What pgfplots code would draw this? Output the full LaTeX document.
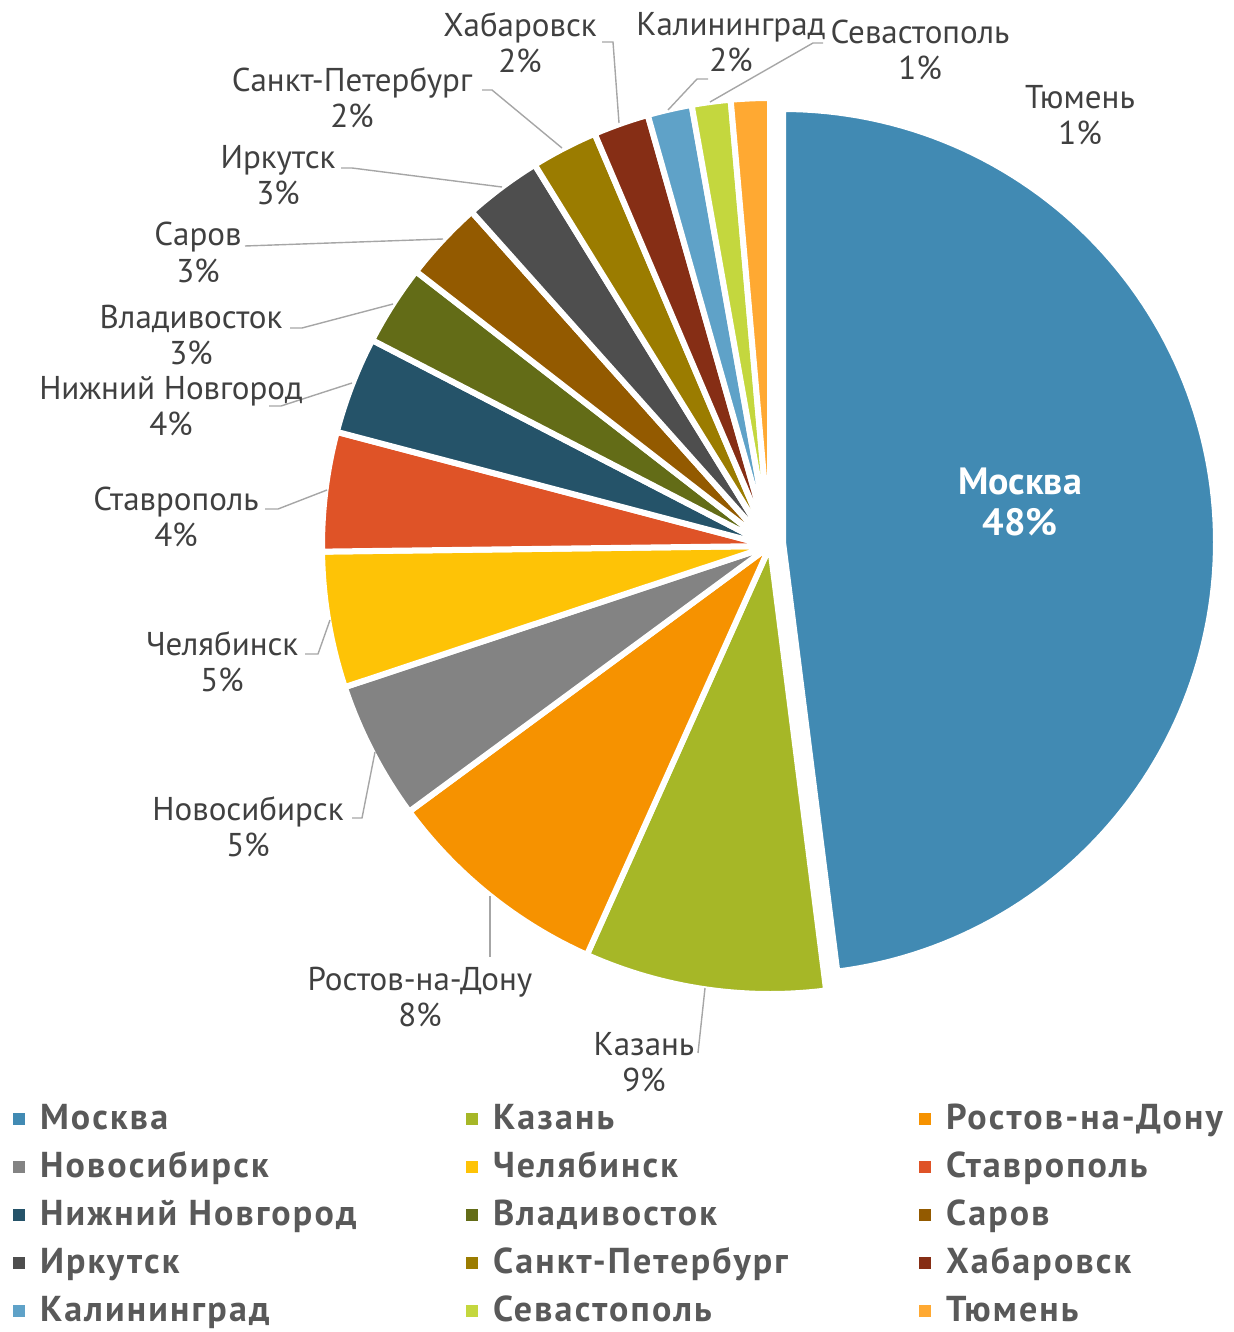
\documentclass[border=0pt]{standalone}
\usepackage{fontspec}
\setmainfont{PT Sans}
\newfontfamily\legfont[LetterSpace=6]{PT Sans}
\usepackage{pgfplots}
\pgfplotsset{compat=1.18}
\definecolor{mosc}{HTML}{418AB3}
\definecolor{kaz}{HTML}{A6B727}
\definecolor{rost}{HTML}{F69200}
\definecolor{novo}{HTML}{838383}
\definecolor{chel}{HTML}{FEC306}
\definecolor{stav}{HTML}{DF5327}
\definecolor{nn}{HTML}{255369}
\definecolor{vlad}{HTML}{636C17}
\definecolor{sar}{HTML}{935A00}
\definecolor{irk}{HTML}{4E4E4E}
\definecolor{spb}{HTML}{9B7C00}
\definecolor{khab}{HTML}{862E15}
\definecolor{kal}{HTML}{5FA2C8}
\definecolor{sev}{HTML}{C4D73E}
\definecolor{tyu}{HTML}{FFA932}
\definecolor{labtext}{HTML}{404040}
\definecolor{legtext}{HTML}{595959}
\definecolor{leader}{HTML}{A6A6A6}
\newcommand\lab{\fontsize{16.5}{18}\selectfont}
\def\cum{0}
% #1 colour, #2 share in percent, #3 centre x, #4 centre y, #5 radius
\newcommand\slice[5]{%
  \pgfmathsetmacro\sa{3.6*\cum-90}%
  \pgfmathsetmacro\cumnew{\cum+#2}%
  \pgfmathsetmacro\sb{3.6*\cumnew-90}%
  \global\let\cum\cumnew
  \edef\temp{\noexpand\addplot[forget plot, fill=#1, draw=white, line width=3pt, line join=round, domain=\sa:\sb, samples=120] ({#3+#5*cos(x)},{#4+#5*sin(x)}) -- (axis cs:#3,#4) -- cycle;}%
  \temp}
\begin{document}
\begin{tikzpicture}
\begin{axis}[
  x=0.5pt, y=0.5pt,
  xmin=0, xmax=1233, ymin=0, ymax=1332,
  y dir=reverse,
  hide axis, clip=false,
  legend columns=3,
  legend cell align=left,
  legend image code/.code={\fill[#1,draw=none] (0pt,-3pt) rectangle (6pt,3pt);},
  legend style={at={(axis cs:13,1104)}, anchor=north west, draw=none, fill=none,
    inner sep=0pt, outer sep=0pt, column sep=0pt, row sep=9pt,
    font=\legfont\fontsize{18}{20}\selectfont\bfseries, text=legtext,
    nodes={inner sep=0pt, text height=12.5pt, text depth=2.5pt},
    /tikz/every odd column/.append style={column sep=7.5pt}},
]
% Moscow (exploded)
\slice{mosc}{48.0}{783}{542}{433}
% the rest
\slice{kaz}{8.7}{770}{546}{448}
\slice{rost}{8.2}{770}{546}{448}
\slice{novo}{5.0}{770}{546}{448}
\slice{chel}{4.9}{770}{546}{448}
\slice{stav}{4.3}{770}{546}{448}
\slice{nn}{3.5}{770}{546}{448}
\slice{vlad}{2.9}{770}{546}{448}
\slice{sar}{2.9}{770}{546}{448}
\slice{irk}{2.8}{770}{546}{448}
\slice{spb}{2.4}{770}{546}{448}
\slice{khab}{2.0}{770}{546}{448}
\slice{kal}{1.6}{770}{546}{448}
\slice{sev}{1.4}{770}{546}{448}
\slice{tyu}{1.4}{770}{546}{448}
% leader lines
\addplot[forget plot, leader, line width=0.7pt] coordinates {(705,988) (698,1053)};
\addplot[forget plot, leader, line width=0.7pt] coordinates {(490,896) (490,957)};
\addplot[forget plot, leader, line width=0.7pt] coordinates {(375,752) (362,818) (352,818)};
\addplot[forget plot, leader, line width=0.7pt] coordinates {(330,620) (318,654) (305,654)};
\addplot[forget plot, leader, line width=0.7pt] coordinates {(327,490) (278,509) (265,509)};
\addplot[forget plot, leader, line width=0.7pt] coordinates {(352,383) (281,406) (269,406)};
\addplot[forget plot, leader, line width=0.7pt] coordinates {(393,304) (302,328) (290,328)};
\addplot[forget plot, leader, line width=0.7pt] coordinates {(443,239) (245,246)};
\addplot[forget plot, leader, line width=0.7pt] coordinates {(502,187) (352,168) (341,168)};
\addplot[forget plot, leader, line width=0.7pt] coordinates {(562,148) (492,90) (482,90)};
\addplot[forget plot, leader, line width=0.7pt] coordinates {(619,123) (613,42) (602,42)};
\addplot[forget plot, leader, line width=0.7pt] coordinates {(668,110) (697,79) (708,79)};
\addplot[forget plot, leader, line width=0.7pt] coordinates {(710,102) (813,43) (823,43)};
% labels (anchored at the baseline of the second line)
\node[anchor=base, align=center, text=white, font=\fontsize{19}{20.5}\selectfont\bfseries] at (axis cs:1020,535) {Москва\\48\%};
\node[anchor=base, align=center, text=labtext, font=\lab] at (axis cs:644,1091) {Казань\\9\%};
\node[anchor=base, align=center, text=labtext, font=\lab] at (axis cs:420,1026) {Ростов-на-Дону\\8\%};
\node[anchor=base, align=center, text=labtext, font=\lab] at (axis cs:248,856) {Новосибирск\\5\%};
\node[anchor=base, align=center, text=labtext, font=\lab] at (axis cs:222,691) {Челябинск\\5\%};
\node[anchor=base, align=center, text=labtext, font=\lab] at (axis cs:176,546) {Ставрополь\\4\%};
\node[anchor=base, align=center, text=labtext, font=\lab] at (axis cs:171,435) {Нижний Новгород\\4\%};
\node[anchor=base, align=center, text=labtext, font=\lab] at (axis cs:191,364) {Владивосток\\3\%};
\node[anchor=base, align=center, text=labtext, font=\lab] at (axis cs:198,282) {Саров\\3\%};
\node[anchor=base, align=center, text=labtext, font=\lab] at (axis cs:278,205) {Иркутск\\3\%};
\node[anchor=base, align=center, text=labtext, font=\lab] at (axis cs:352,128) {Санкт-Петербург\\2\%};
\node[anchor=base, align=center, text=labtext, font=\lab] at (axis cs:520,73) {Хабаровск\\2\%};
\node[anchor=base, align=center, text=labtext, font=\lab] at (axis cs:731,72) {Калининград\\2\%};
\node[anchor=base, align=center, text=labtext, font=\lab] at (axis cs:920,80) {Севастополь\\1\%};
\node[anchor=base, align=center, text=labtext, font=\lab] at (axis cs:1080,145) {Тюмень\\1\%};
% legend
\addlegendimage{fill=mosc}\addlegendentry{\makebox[213pt][l]{Москва}}
\addlegendimage{fill=kaz}\addlegendentry{\makebox[213pt][l]{Казань}}
\addlegendimage{fill=rost}\addlegendentry{Ростов-на-Дону}
\addlegendimage{fill=novo}\addlegendentry{\makebox[213pt][l]{Новосибирск}}
\addlegendimage{fill=chel}\addlegendentry{\makebox[213pt][l]{Челябинск}}
\addlegendimage{fill=stav}\addlegendentry{Ставрополь}
\addlegendimage{fill=nn}\addlegendentry{\makebox[213pt][l]{Нижний Новгород}}
\addlegendimage{fill=vlad}\addlegendentry{\makebox[213pt][l]{Владивосток}}
\addlegendimage{fill=sar}\addlegendentry{Саров}
\addlegendimage{fill=irk}\addlegendentry{\makebox[213pt][l]{Иркутск}}
\addlegendimage{fill=spb}\addlegendentry{\makebox[213pt][l]{Санкт-Петербург}}
\addlegendimage{fill=khab}\addlegendentry{Хабаровск}
\addlegendimage{fill=kal}\addlegendentry{\makebox[213pt][l]{Калининград}}
\addlegendimage{fill=sev}\addlegendentry{\makebox[213pt][l]{Севастополь}}
\addlegendimage{fill=tyu}\addlegendentry{Тюмень}
\end{axis}
\pgfresetboundingbox
\path[use as bounding box] (current axis.south west) rectangle (current axis.north east);
\end{tikzpicture}
\end{document}
